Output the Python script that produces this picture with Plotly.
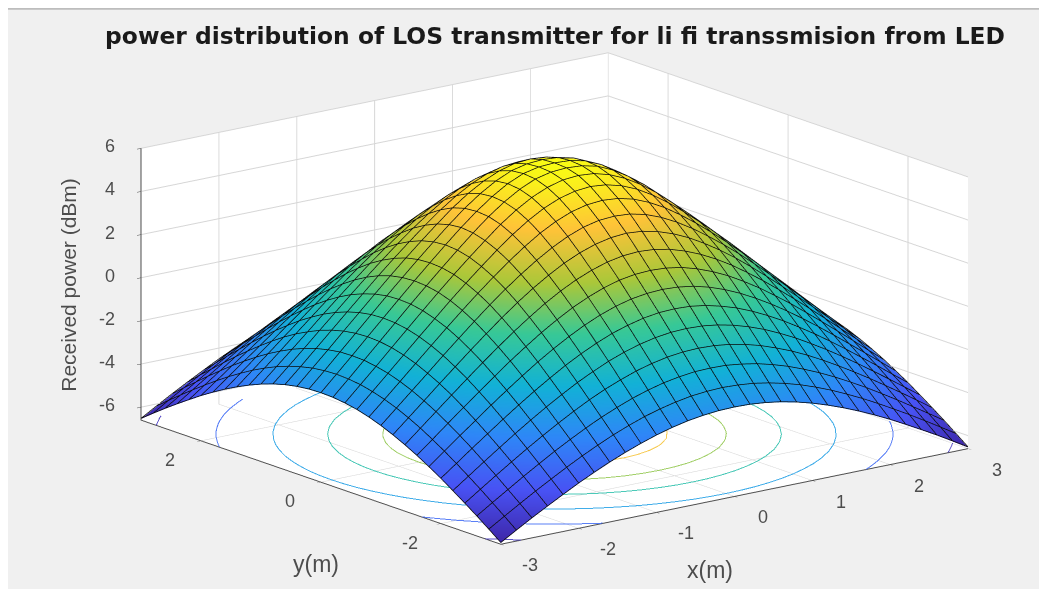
import numpy as np
import plotly.graph_objects as go
from plotly.colors import sample_colorscale

x_m = [-3.0,-2.8,-2.6,-2.4,-2.2,-2.0,-1.8,-1.6,-1.4,-1.2,-1.0,-0.8,-0.6,-0.4,-0.2,0.0,
       0.2,0.4,0.6,0.8,1.0,1.2,1.4,1.6,1.8,2.0,2.2,2.4,2.6,2.8,3.0]
y_m = list(x_m)
x_ticks = [-3,-2,-1,0,1,2,3]
y_ticks = [-2,0,2]
z_ticks = [-6,-4,-2,0,2,4,6]
contour_levels = [-6,-4,-2,0,2,4]

# one quadrant (index 0 = centre, last = edge); the surface is mirror-symmetric
power_quadrant = [
 [5.96,5.92,5.76,5.44,4.99,4.45,3.85,3.19,2.51,1.82,1.11,.39,-.33,-1.06,-1.77,-2.48],
 [5.92,5.87,5.70,5.37,4.93,4.40,3.79,3.14,2.47,1.78,1.08,.36,-.36,-1.08,-1.80,-2.50],
 [5.76,5.70,5.50,5.18,4.75,4.23,3.63,3.00,2.35,1.67,.97,.26,-.45,-1.17,-1.87,-2.57],
 [5.44,5.37,5.18,4.87,4.45,3.95,3.38,2.77,2.14,1.48,.79,.10,-.60,-1.30,-2.00,-2.68],
 [4.99,4.93,4.75,4.45,4.06,3.58,3.05,2.47,1.86,1.22,.56,-.12,-.80,-1.49,-2.17,-2.84],
 [4.45,4.40,4.23,3.95,3.58,3.14,2.64,2.10,1.52,.90,.26,-.39,-1.06,-1.72,-2.38,-3.04],
 [3.85,3.79,3.63,3.38,3.05,2.64,2.18,1.67,1.11,.52,-.09,-.72,-1.35,-2.00,-2.64,-3.28],
 [3.19,3.14,3.00,2.77,2.47,2.10,1.67,1.18,.66,.10,-.48,-1.08,-1.69,-2.31,-2.93,-3.55],
 [2.51,2.47,2.35,2.14,1.86,1.52,1.11,.66,.16,-.36,-.92,-1.49,-2.07,-2.66,-3.26,-3.85],
 [1.82,1.78,1.67,1.48,1.22,.90,.52,.10,-.36,-.86,-1.38,-1.92,-2.48,-3.04,-3.61,-4.18],
 [1.11,1.08,.97,.79,.56,.26,-.09,-.48,-.92,-1.38,-1.87,-2.38,-2.91,-3.44,-3.99,-4.53],
 [.39,.36,.26,.10,-.12,-.39,-.72,-1.08,-1.49,-1.92,-2.38,-2.86,-3.36,-3.87,-4.39,-4.91],
 [-.33,-.36,-.45,-.60,-.80,-1.06,-1.35,-1.69,-2.07,-2.48,-2.91,-3.36,-3.83,-4.31,-4.80,-5.30],
 [-1.06,-1.08,-1.17,-1.30,-1.49,-1.72,-2.00,-2.31,-2.66,-3.04,-3.44,-3.87,-4.31,-4.77,-5.23,-5.70],
 [-1.77,-1.80,-1.87,-2.00,-2.17,-2.38,-2.64,-2.93,-3.26,-3.61,-3.99,-4.39,-4.80,-5.23,-5.67,-6.12],
 [-2.48,-2.50,-2.57,-2.68,-2.84,-3.04,-3.28,-3.55,-3.85,-4.18,-4.53,-4.91,-5.30,-5.70,-6.12,-6.55],
]
q = np.array(power_quadrant)
right = np.hstack([q[:, :0:-1], q])
power_dbm = np.vstack([right[:0:-1], right])

parula = [[0,"rgb(62,38,168)"],[1/7,"rgb(72,82,244)"],[2/7,"rgb(46,135,247)"],[3/7,"rgb(18,177,214)"],
          [4/7,"rgb(55,200,151)"],[5/7,"rgb(171,199,57)"],[6/7,"rgb(254,195,56)"],[1,"rgb(249,251,21)"]]

FONT = "Liberation Sans"
INK = "#4d4d4d"
Z0 = -6.6
ZMIN, ZMAX = -6.55, 5.96
SCALE = 2.03

def axis(ticks, rng):
    return dict(title=dict(text=""), tickvals=ticks, range=rng, showticklabels=False,
                showbackground=True, backgroundcolor="white", gridcolor="#d6d6d6", gridwidth=2,
                showline=True, linecolor=INK, linewidth=2, ticks="outside", ticklen=5,
                tickcolor=INK, zeroline=False, showspikes=False)

def label(x, y, z, text, dx, dy, size=18, anchor="center", angle=0):
    return dict(x=x, y=y, z=z, text=text, showarrow=False, xshift=dx, yshift=-dy, textangle=angle,
                xanchor=anchor, yanchor="middle", font=dict(size=size, color=INK, family=FONT))

def contour_segments(level):
    """Level crossings of the table, cell by cell, as segments for a floor contour."""
    xs, ys = [], []
    n = len(x_m)
    for r in range(n - 1):
        for c in range(n - 1):
            corners = [(c, r), (c + 1, r), (c + 1, r + 1), (c, r + 1)]
            pts = []
            for k in range(4):
                c0, r0 = corners[k]
                c1, r1 = corners[(k + 1) % 4]
                v0, v1 = power_dbm[r0, c0], power_dbm[r1, c1]
                if (v0 >= level) != (v1 >= level):
                    t = (level - v0) / (v1 - v0)
                    pts.append((x_m[c0] + t * (x_m[c1] - x_m[c0]), y_m[r0] + t * (y_m[r1] - y_m[r0])))
            for a in range(0, len(pts) - 1, 2):
                xs += [pts[a][0], pts[a + 1][0], None]
                ys += [pts[a][1], pts[a + 1][1], None]
    return xs, ys

notes = [label(t, -3, Z0, str(t), 29, 21) for t in x_ticks]
notes += [label(-3, t, Z0, str(t), -31, 19) for t in y_ticks]
notes += [label(-3, 3, t, str(t), -24, -2, anchor="right") for t in z_ticks]
notes += [label(0, -3, Z0, "x(m)", -24, 74, size=23),
          label(-3, 0, Z0, "y(m)", -5, 82, size=23),
          label(-3, 3, 0, "Received power (dBm)", -72, 7, size=21, angle=-90)]

fig = go.Figure(go.Surface(
    x=x_m, y=y_m, z=power_dbm, cmin=ZMIN, cmax=ZMAX, colorscale=parula, showscale=False,
    lighting=dict(ambient=1, diffuse=0, specular=0, roughness=1, fresnel=0),
    hoverinfo="skip",
))

# surface mesh lines, taken from the table
mesh_x, mesh_y, mesh_z = [], [], []
for r, yv in enumerate(y_m):
    mesh_x += x_m + [None]
    mesh_y += [yv] * len(x_m) + [None]
    mesh_z += list(power_dbm[r] + 0.03) + [None]
for c, xv in enumerate(x_m):
    mesh_x += [xv] * len(y_m) + [None]
    mesh_y += y_m + [None]
    mesh_z += list(power_dbm[:, c] + 0.03) + [None]
fig.add_trace(go.Scatter3d(x=mesh_x, y=mesh_y, z=mesh_z, mode="lines",
                           line=dict(color="#0a0a0a", width=1.5), hoverinfo="skip", showlegend=False))

# floor contours
for level in contour_levels:
    cx, cy = contour_segments(level)
    colour = sample_colorscale(parula, (level - ZMIN) / (ZMAX - ZMIN))[0]
    fig.add_trace(go.Scatter3d(x=cx, y=cy, z=[None if v is None else Z0 + 0.01 for v in cx], mode="lines",
                               line=dict(color=colour, width=2), opacity=0.85,
                               hoverinfo="skip", showlegend=False))

fig.update_layout(
    width=1039, height=581, autosize=False,
    paper_bgcolor="#f0f0f0", margin=dict(l=0, r=0, t=0, b=0),
    title=dict(text="<b>power distribution of LOS transmitter for li fi transsmision from LED</b>",
               x=0.5265, xanchor="center", y=0.952, yanchor="middle",
               font=dict(size=23.4, color="#1a1a1a", family="DejaVu Sans")),
    shapes=[dict(type="rect", xref="paper", yref="paper", x0=0, x1=1, y0=0.997, y1=1,
                 fillcolor="#bdbdbd", line=dict(width=0), layer="below")],
    scene=dict(
        domain=dict(x=[0.052, 1], y=[0, 1]),
        xaxis=axis(x_ticks, [-3,3]),
        yaxis=axis(y_ticks, [-3,3]),
        zaxis=axis(z_ticks, [Z0,6]),
        annotations=notes,
        aspectmode="manual", aspectratio=dict(x=SCALE, y=SCALE, z=0.478*SCALE),
        camera=dict(eye=dict(x=-0.588*2, y=-0.7635*2, z=0.2656*2),
                    up=dict(x=0, y=0, z=1), center=dict(x=0, y=0, z=0),
                    projection=dict(type="orthographic")),
    ),
)
fig.write_html("out.html")
